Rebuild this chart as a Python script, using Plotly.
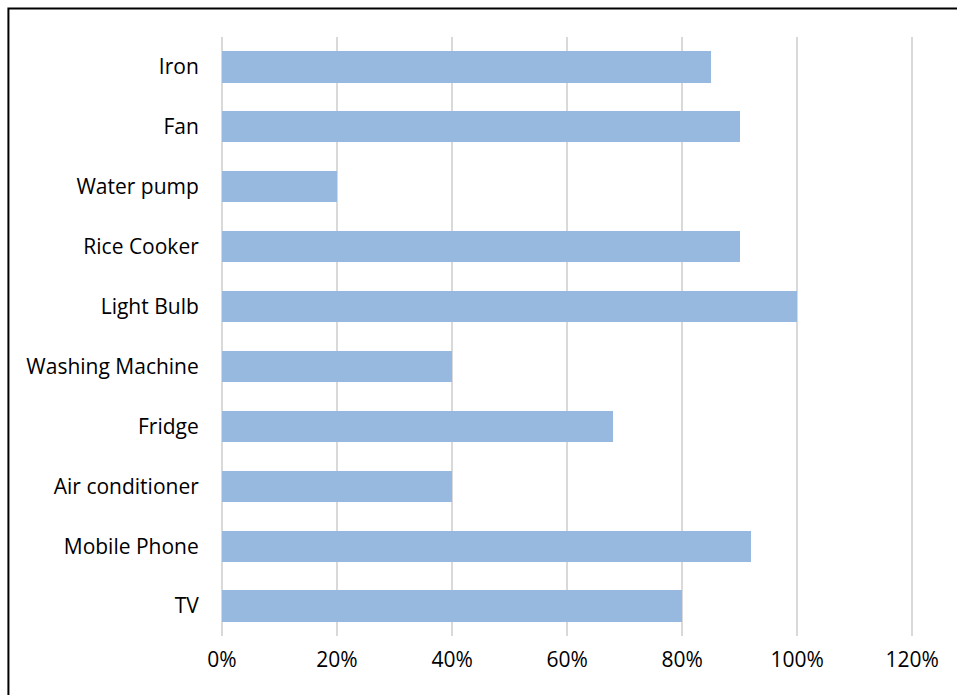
import plotly.graph_objects as go

# Appliance usage share (fraction of households)
appliances = ["TV", "Mobile Phone", "Air conditioner", "Fridge", "Washing Machine",
              "Light Bulb", "Rice Cooker", "Water pump", "Fan", "Iron"]
usage_share = [0.80, 0.92, 0.40, 0.68, 0.40, 1.00, 0.90, 0.20, 0.90, 0.85]
x_ticks = [0, 0.2, 0.4, 0.6, 0.8, 1.0, 1.2]
x_tick_labels = ["0%", "20%", "40%", "60%", "80%", "100%", "120%"]

W, H = 957, 695
X_MAX = 1.21                     # a little headroom so the 120% gridline is drawn
L, T, B = 222, 37, 636           # plot area edges in pixels
PX_PER_UNIT = (912 - 222) / 1.2  # 0..120% spans 222..912 px
R = L + X_MAX * PX_PER_UNIT

fig = go.Figure(go.Bar(
    x=usage_share,
    y=appliances,
    orientation="h",
    marker=dict(color="#97B8DF", line=dict(width=0)),
    width=0.52,
))

grid = "#D9D9D9"
font = dict(family="'Open Sans', Lato, sans-serif", size=21, color="#000000")

fig.update_layout(
    width=W, height=H,
    margin=dict(l=L, r=W - R, t=T, b=H - B, pad=0),
    paper_bgcolor="white",
    plot_bgcolor="white",
    showlegend=False,
    font=font,
    bargap=0,
)
fig.update_xaxes(
    range=[0, X_MAX],
    tickvals=x_ticks,
    ticktext=x_tick_labels,
    showgrid=True, gridcolor=grid, gridwidth=1.5,
    zeroline=True, zerolinecolor=grid, zerolinewidth=1.5,
    showline=False,
    ticks="outside", ticklen=5, tickcolor="rgba(0,0,0,0)",
    tickfont=font,
    fixedrange=True,
)
fig.update_yaxes(
    categoryorder="array", categoryarray=appliances,
    range=[-0.5, len(appliances) - 0.5],
    showgrid=False, zeroline=False, showline=False,
    ticks="outside", ticklen=18, tickcolor="rgba(0,0,0,0)",
    tickfont=font,
    fixedrange=True,
)

# Outer chart frame (left and top edges visible; right/bottom run past the page)
pw, ph = R - L, B - T
def px_x(p):
    return (p - L) / pw
def px_y(p):
    return (B - p) / ph

fig.add_shape(
    type="rect", xref="paper", yref="paper",
    x0=px_x(8.5), x1=px_x(W + 10), y0=px_y(H + 10), y1=px_y(8.5),
    line=dict(color="black", width=2), fillcolor="rgba(0,0,0,0)", layer="above",
)

fig.write_html("out.html")
